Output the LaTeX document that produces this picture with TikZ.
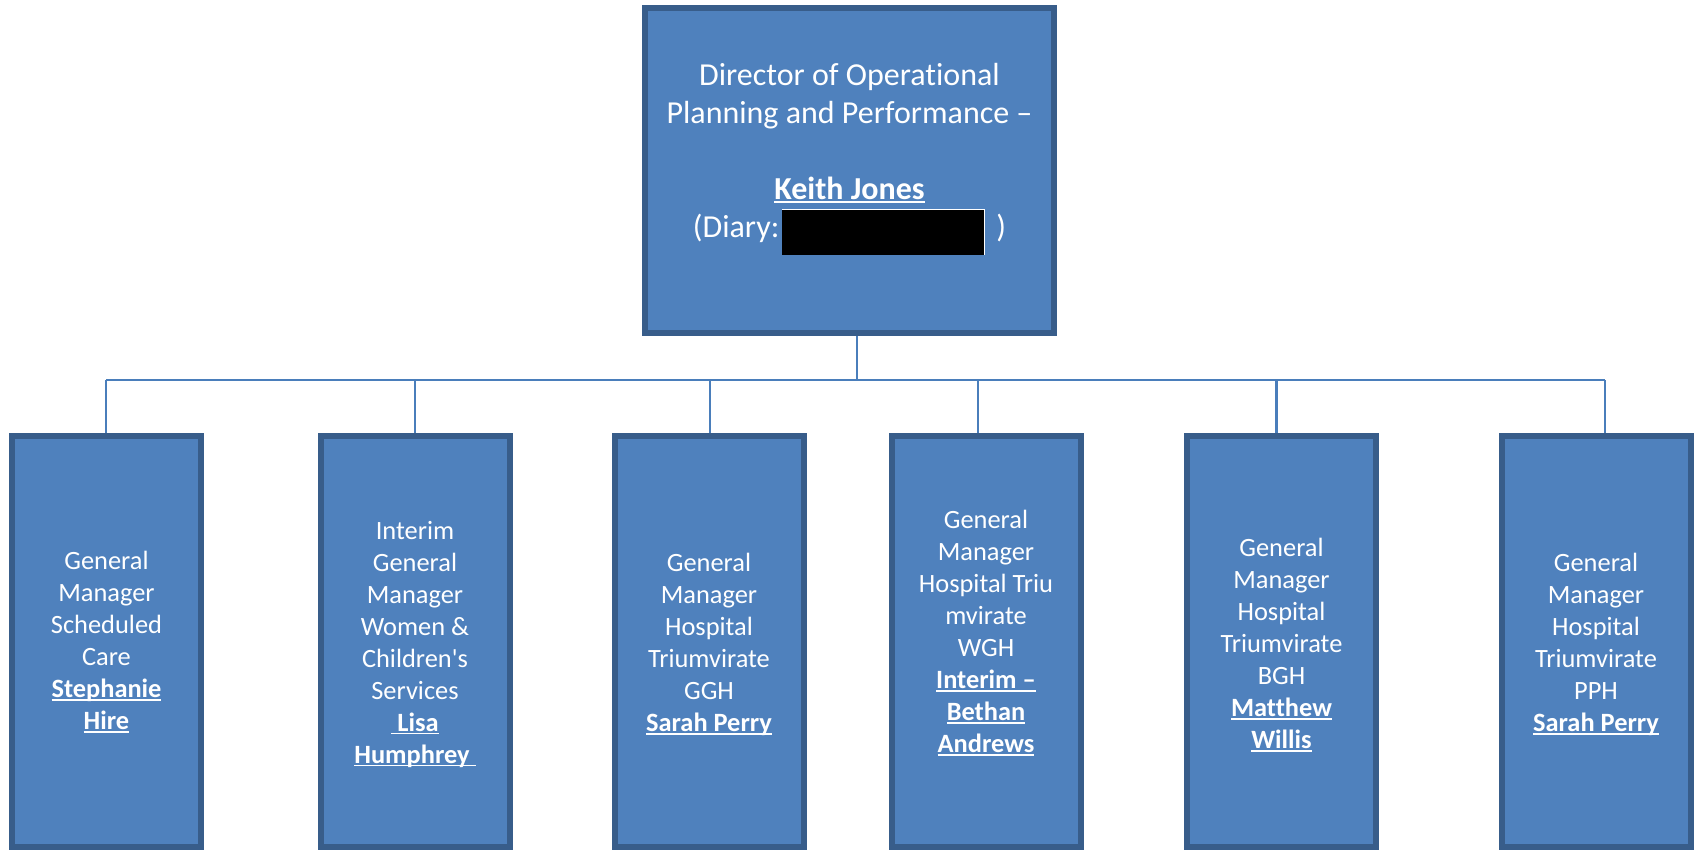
\documentclass[tikz,border=0pt]{standalone}
\usepackage{fontspec}
\setmainfont{Carlito}[Ligatures={TeX,NoCommon}]
\definecolor{boxfill}{HTML}{4F81BD}
\definecolor{boxline}{HTML}{385D8A}
\definecolor{wire}{HTML}{4A7EBB}
\newcommand\myul[1]{\setbox0=\hbox{#1}\rlap{\rule[-1.7pt]{\wd0}{0.9pt}}\box0}
\newcommand\nm[1]{\myul{\bfseries #1}}
\begin{document}
\begin{tikzpicture}[x=0.5pt,y=-0.5pt,
  unit/.style={draw=boxline, fill=boxfill, line width=3pt, inner sep=0pt,
    minimum width=94.5pt, minimum height=205.5pt},
  lbl/.style={text=white, align=center, inner sep=0pt, font=\fontsize{13.2}{16}\selectfont},
  toplbl/.style={text=white, align=center, inner sep=0pt, font=\fontsize{16}{19}\selectfont},
  wirestyle/.style={draw=wire, line width=1.2pt}]
\useasboundingbox (0,0) rectangle (1696,853);

% boxes
\node[unit, minimum width=204.5pt, minimum height=162.5pt] (top) at (849.5,170.5) {};
\node[unit] (b1) at (106.5,641.5) {};
\node[unit] (b2) at (415,641.5) {};
\node[unit] (b3) at (709,641.5) {};
\node[unit] (b4) at (986,641.5) {};
\node[unit] (b5) at (1281.5,641.5) {};
\node[unit] (b6) at (1596,641.5) {};

% texts
\node[toplbl] (ttop) at (849.5,153) {Director of Operational\\Planning and Performance –\\[19pt]
  \myul{\bfseries Keith Jones}\\
  (Diary:\hspace{1.5pt}\smash{\color{white}\rule[-8.5pt]{101.5pt}{23pt}\hspace{-101.5pt}\color{black}\rule[-8.5pt]{101pt}{22.5pt}}\hspace{6pt})};
\node[lbl] (t1) at (106.5,642) {General\\Manager\\Scheduled\\Care\\\nm{Stephanie}\\\nm{Hire}};
\node[lbl] (t2) at (415,644) {Interim\\General\\Manager\\Women \&\\Children\textquotesingle s\\Services\\\nm{\ Lisa}\\\nm{Humphrey\ }};
\node[lbl] (t3) at (709,644) {General\\Manager\\Hospital\\Triumvirate\\GGH\\\nm{Sarah Perry}};
\node[lbl] (t4) at (986,633) {General\\Manager\\Hospital Triu\\mvirate\\WGH\\\nm{Interim –}\\\nm{Bethan}\\\nm{Andrews}};
\node[lbl] (t5) at (1281.5,645) {General\\Manager\\Hospital\\Triumvirate\\BGH\\\nm{Matthew}\\\nm{Willis}};
\node[lbl] (t6) at (1596,644) {General\\Manager\\Hospital\\Triumvirate\\PPH\\\nm{Sarah Perry}};

% connectors
\coordinate (bus) at (857,380);
\coordinate (j1) at (106,380);
\coordinate (j2) at (415,380);
\coordinate (j3) at (710,380);
\coordinate (j4) at (978,380);
\coordinate (j5) at (1276.5,380);
\coordinate (j6) at (1605,380);
\draw[wirestyle] (bus |- top.south) -- (bus);
\draw[wirestyle] (j1) -- (j6);
\foreach \i in {1,...,6}{
  \draw[wirestyle] (j\i) -- (j\i |- b\i.north);
}
\end{tikzpicture}
\end{document}
